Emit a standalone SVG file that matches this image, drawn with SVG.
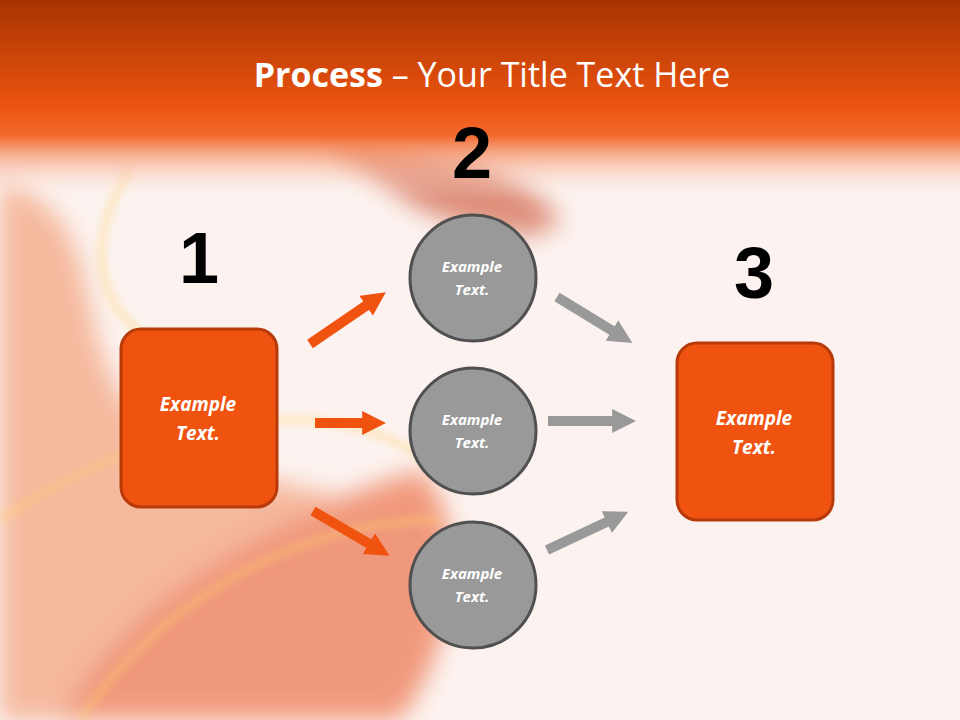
<svg xmlns="http://www.w3.org/2000/svg" width="960" height="720" viewBox="0 0 960 720">
<defs>
<linearGradient id="top" x1="0" y1="0" x2="0" y2="1">
<stop offset="0" stop-color="#a83300"/>
<stop offset="0.55" stop-color="#ee5511"/>
<stop offset="0.68" stop-color="#f26a30"/>
<stop offset="1" stop-color="#fcf3f0" stop-opacity="0"/>
</linearGradient>
<filter id="blur" x="-20%" y="-20%" width="140%" height="140%"><feGaussianBlur stdDeviation="12"/></filter>
<filter id="blur2"><feGaussianBlur stdDeviation="4"/></filter>
<marker id="ho" viewBox="0 0 10 10" refX="2" refY="5" markerWidth="2.4" markerHeight="2.4" orient="auto" markerUnits="strokeWidth"><path d="M0,0 L10,5 L0,10 Z" fill="#f0520f"/></marker>
<marker id="hg" viewBox="0 0 10 10" refX="2" refY="5" markerWidth="2.4" markerHeight="2.4" orient="auto" markerUnits="strokeWidth"><path d="M0,0 L10,5 L0,10 Z" fill="#999999"/></marker>
</defs>
<style>
.num{font-family:"Liberation Sans",Arial,sans-serif;font-weight:bold;font-size:72px;fill:#000;text-anchor:middle}
.lbl{font-family:"Open Sans","Liberation Sans",sans-serif;font-weight:bold;font-style:italic;fill:#fff;text-anchor:middle}
.box{fill:#f0520f;stroke:#b83a0a;stroke-width:3}
.circ{fill:#999999;stroke:#505050;stroke-width:3}
.ao{stroke:#f0520f;stroke-width:10;marker-end:url(#ho)}
.ag{stroke:#999999;stroke-width:10;marker-end:url(#hg)}
</style>
<rect width="960" height="720" fill="#fcf3f0"/>
<g opacity="0.55" filter="url(#blur)">
<path d="M0,180 C120,220 60,330 140,420 C220,500 380,470 430,560 C470,640 380,700 300,720 L0,720 Z" fill="#f08a5a"/>
<path d="M60,720 C120,600 260,520 420,470 C470,520 460,640 400,720 Z" fill="#e8501a"/>
<path d="M320,140 C420,150 520,160 560,220 C540,250 470,230 420,210 Z" fill="#c8401a"/>
</g>
<g opacity="0.5" filter="url(#blur2)" fill="none" stroke="#ffd070" stroke-width="6">
<path d="M0,520 C150,420 330,380 440,470"/>
<path d="M80,720 C160,600 300,520 440,520"/>
<path d="M130,170 C70,260 110,340 200,360"/>
</g>
<rect width="960" height="200" fill="url(#top)"/>
<text x="492" y="87" text-anchor="middle" font-family="Open Sans, Liberation Sans, sans-serif" font-size="34" fill="#fff"><tspan font-weight="bold">Process</tspan> – Your Title Text Here</text>
<g id="connectors">
<line class="ao" x1="310" y1="344" x2="370" y2="303"/>
<line class="ao" x1="315" y1="423" x2="367" y2="423"/>
<line class="ao" x1="313" y1="511" x2="373" y2="546"/>
<line class="ag" x1="557" y1="297" x2="616" y2="333"/>
<line class="ag" x1="548" y1="421" x2="617" y2="421"/>
<line class="ag" x1="547" y1="550" x2="611" y2="520"/>
</g>
<g id="n1"><text class="num" x="199" y="283">1</text><rect class="box" x="121" y="329" width="156" height="178" rx="20"/><text class="lbl" x="198" y="411" font-size="19">Example</text><text class="lbl" x="198" y="440" font-size="19">Text.</text></g>
<g id="n2label"><text class="num" x="472" y="178">2</text></g>
<g id="c1"><circle class="circ" cx="473" cy="278" r="63"/><text class="lbl" x="472" y="272" font-size="15">Example</text><text class="lbl" x="472" y="295" font-size="15">Text.</text></g>
<g id="c2"><circle class="circ" cx="473" cy="431" r="63"/><text class="lbl" x="472" y="425" font-size="15">Example</text><text class="lbl" x="472" y="448" font-size="15">Text.</text></g>
<g id="c3"><circle class="circ" cx="473" cy="585" r="63"/><text class="lbl" x="472" y="579" font-size="15">Example</text><text class="lbl" x="472" y="602" font-size="15">Text.</text></g>
<g id="n3"><text class="num" x="754" y="298">3</text><rect class="box" x="677" y="343" width="156" height="177" rx="20"/><text class="lbl" x="754" y="425" font-size="19">Example</text><text class="lbl" x="754" y="454" font-size="19">Text.</text></g>
</svg>
